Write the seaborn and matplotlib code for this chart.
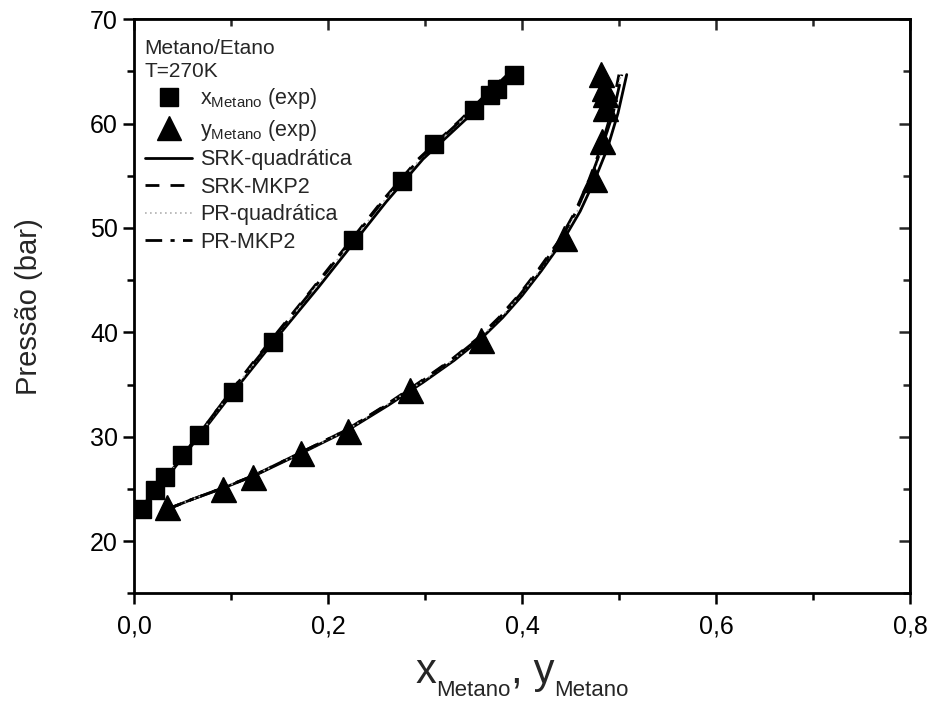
import numpy as np
import pandas as pd
import seaborn as sns
import matplotlib
matplotlib.use('Agg')
import matplotlib.pyplot as plt
from matplotlib.lines import Line2D
from matplotlib.ticker import MultipleLocator

# experimental points (Metano/Etano, T=270K)
x_exp = [0.008, 0.022, 0.032, 0.049, 0.067, 0.102, 0.143, 0.226, 0.276, 0.309, 0.351, 0.367, 0.374, 0.392]
Px_exp = [23.05, 24.9, 26.1, 28.2, 30.2, 34.3, 39.1, 48.8, 54.5, 58.0, 61.3, 62.7, 63.3, 64.7]
y_exp = [0.034, 0.092, 0.123, 0.172, 0.221, 0.285, 0.358, 0.443, 0.474, 0.483, 0.486, 0.486, 0.485, 0.481]
Py_exp = [23.3, 25.0, 26.1, 28.4, 30.5, 34.5, 39.3, 49.0, 54.7, 58.3, 61.5, 62.8, 63.4, 64.8]

# model curves, liquid branch (bubble)
P_liq = [22.9, 25.0, 28.0, 31.0, 34.0, 36.9, 39.8, 44.3, 48.4, 52.5, 56.6, 60.4, 63.0, 64.7]
x_srk_quad = [0.004, 0.025, 0.050, 0.075, 0.100, 0.125, 0.150, 0.190, 0.225, 0.260, 0.298, 0.342, 0.370, 0.388]
x_srk_mkp2 = [0.004, 0.024, 0.049, 0.073, 0.097, 0.121, 0.146, 0.185, 0.220, 0.255, 0.293, 0.337, 0.365, 0.384]
x_pr_quad = [0.004, 0.024, 0.049, 0.074, 0.098, 0.123, 0.148, 0.187, 0.222, 0.257, 0.295, 0.339, 0.367, 0.386]
x_pr_mkp2 = [0.004, 0.024, 0.049, 0.073, 0.097, 0.122, 0.147, 0.186, 0.221, 0.256, 0.294, 0.338, 0.366, 0.385]

# model curves, vapour branch (dew)
P_vap = [23.0, 24.0, 25.0, 26.3, 28.3, 30.6, 33.0, 35.2, 37.3, 39.4, 41.4, 43.5, 45.9, 48.9, 51.6, 54.6, 57.6, 61.0, 64.7]
y_srk_quad = [0.033, 0.060, 0.090, 0.125, 0.170, 0.220, 0.262, 0.298, 0.330, 0.358, 0.380, 0.400, 0.420, 0.443, 0.460, 0.475, 0.488, 0.499, 0.508]
y_srk_mkp2 = [0.033, 0.060, 0.089, 0.124, 0.168, 0.218, 0.259, 0.294, 0.326, 0.354, 0.376, 0.396, 0.416, 0.439, 0.455, 0.469, 0.481, 0.492, 0.500]
y_pr_quad = [0.033, 0.060, 0.089, 0.124, 0.169, 0.219, 0.260, 0.296, 0.328, 0.356, 0.378, 0.398, 0.418, 0.441, 0.457, 0.471, 0.483, 0.494, 0.502]
y_pr_mkp2 = [0.033, 0.060, 0.089, 0.124, 0.168, 0.218, 0.260, 0.295, 0.327, 0.355, 0.377, 0.397, 0.417, 0.440, 0.456, 0.470, 0.482, 0.494, 0.503]

models = ['SRK-quadrática', 'SRK-MKP2', 'PR-quadrática', 'PR-MKP2']
liq = [x_srk_quad, x_srk_mkp2, x_pr_quad, x_pr_mkp2]
vap = [y_srk_quad, y_srk_mkp2, y_pr_quad, y_pr_mkp2]
styles = {
    'SRK-quadrática': dict(color='black', ls='-', lw=2.0),
    'SRK-MKP2': dict(color='black', ls=(0, (5, 4)), lw=2.0),
    'PR-quadrática': dict(color='#b0b0b0', ls=(0, (1, 2)), lw=1.2),
    'PR-MKP2': dict(color='black', ls=(0, (6, 3, 1.5, 3)), lw=2.0),
}

xticks = [0.0, 0.2, 0.4, 0.6, 0.8]
xticklabels = ['0,0', '0,2', '0,4', '0,6', '0,8']
yticks = [20, 30, 40, 50, 60, 70]

sns.set_theme(style='ticks')
plt.rcParams['font.family'] = ['Liberation Sans', 'DejaVu Sans']
plt.rcParams['mathtext.fontset'] = 'custom'
plt.rcParams['mathtext.rm'] = 'Liberation Sans'
plt.rcParams['mathtext.it'] = 'Liberation Sans'

fig = plt.figure(figsize=(9.33, 7.13), dpi=100)
ax = fig.add_axes([0.1436, 0.168, 0.8317, 0.805])

# model lines
for name, xl, xv in zip(models, liq, vap):
    st = styles[name]
    for xs, ps in [(xl, P_liq), (xv, P_vap)]:
        d = pd.DataFrame({'x': xs, 'P': ps})
        sns.lineplot(data=d, x='x', y='P', sort=False, estimator=None, ax=ax,
                     color=st['color'], linestyle=st['ls'], linewidth=st['lw'])

# experimental points
dx = pd.DataFrame({'x': x_exp, 'P': Px_exp})
dy = pd.DataFrame({'x': y_exp, 'P': Py_exp})
ax.plot(dx['x'], dx['P'], ls='none', marker='s', ms=13.5, color='black', zorder=5)
ax.plot(dy['x'], dy['P'], ls='none', marker='^', ms=18, color='black', zorder=5)

ax.set_xlim(0, 0.8)
ax.set_ylim(15, 70)
ax.set_xticks(xticks)
ax.set_xticklabels(xticklabels)
ax.set_yticks(yticks)
ax.xaxis.set_minor_locator(MultipleLocator(0.1))
ax.yaxis.set_minor_locator(MultipleLocator(5))
ax.tick_params(which='both', direction='out', width=1.8, labelsize=18, colors='black')
ax.tick_params(which='major', length=8)
ax.tick_params(which='minor', length=5)
ax.tick_params(axis='x', pad=7)
for s in ax.spines.values():
    s.set_visible(True)
    s.set_linewidth(2)
    s.set_color('black')

# mirrored inward ticks on top and right
top = ax.secondary_xaxis('top')
top.set_xticks(xticks)
top.xaxis.set_minor_locator(MultipleLocator(0.1))
top.tick_params(which='both', direction='in', width=1.8, labeltop=False)
top.tick_params(which='major', length=8)
top.tick_params(which='minor', length=5)
right = ax.secondary_yaxis('right')
right.set_yticks(yticks)
right.yaxis.set_minor_locator(MultipleLocator(5))
right.tick_params(which='both', direction='in', width=1.8, labelright=False)
right.tick_params(which='major', length=8)
right.tick_params(which='minor', length=5)

ax.set_xlabel('')
ax.set_ylabel('Pressão (bar)', fontsize=21)
ax.yaxis.set_label_coords(-0.117, 0.5)

# x label with big letters and small, low subscripts
pieces = [('x', 30, 0), ('Metano', 16, -13), (',', 30, 0), (' y', 30, 0), ('Metano', 16, -13)]
renderer = fig.canvas.get_renderer()
texts = []
for s, fs, dy_px in pieces:
    t = fig.text(0, 0, s, fontsize=fs, ha='left', va='baseline')
    texts.append((t, dy_px))
widths = [t.get_window_extent(renderer).width for t, _ in texts]
fw, fh = fig.get_size_inches() * fig.dpi
cx = 522
x0 = cx - sum(widths) / 2
base = 713 - 683
for (t, dy_px), w in zip(texts, widths):
    t.set_position((x0 / fw, (base + dy_px) / fh))
    x0 += w

ax.text(0.013, 0.966, 'Metano/Etano\nT=270K', transform=ax.transAxes, fontsize=15,
        va='top', ha='left', linespacing=1.3)

handles = [
    Line2D([], [], ls='none', marker='s', ms=13.5, color='black'),
    Line2D([], [], ls='none', marker='^', ms=17, color='black'),
]
labels = [r'x$_{\mathrm{Metano}}$ (exp)', r'y$_{\mathrm{Metano}}$ (exp)']
for name in models:
    st = styles[name]
    handles.append(Line2D([], [], color=st['color'], linestyle=st['ls'], linewidth=st['lw']))
    labels.append(name)
leg = ax.legend(handles, labels, loc='upper left', bbox_to_anchor=(0.003, 0.898), frameon=False,
                fontsize=15.5, handlelength=2.2, handletextpad=0.35, labelspacing=0.3,
                borderaxespad=0)

fig.savefig('out.png', dpi=100)
